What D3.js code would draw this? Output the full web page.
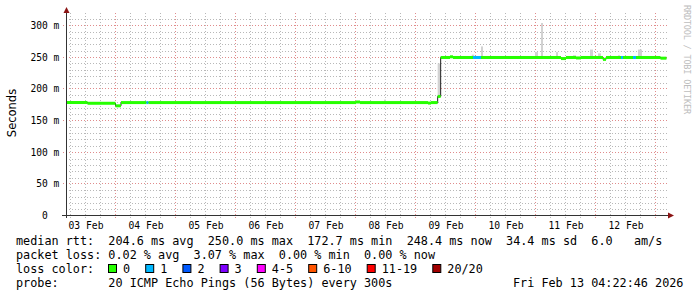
<!DOCTYPE html>
<html><head><meta charset="utf-8">
<script src="https://cdn.jsdelivr.net/npm/d3@7"></script>
<style>
html,body{margin:0;padding:0;background:#fff;}
svg{display:block;}
text{font-family:"DejaVu Sans Mono",monospace;white-space:pre;}
</style></head><body>
<svg id="c" width="697" height="297"></svg>
<script>
// ---- data ----
const startTime = "2026-02-03 04:22:46";
const endTime   = "2026-02-13 04:22:46";

// median rtt (ms) as steps: each value holds from its time until the next time
const medTime  = ["2026-02-03 04:22:46","2026-02-03 12:48","2026-02-04 00:00","2026-02-04 02:12","2026-02-04 12:24","2026-02-04 13:12",
                  "2026-02-08 00:12","2026-02-08 01:48","2026-02-09 05:00","2026-02-09 06:12","2026-02-09 08:52","2026-02-09 10:04",
                  "2026-02-09 13:48","2026-02-09 15:00","2026-02-09 23:00","2026-02-10 02:12","2026-02-11 10:12","2026-02-11 12:12",
                  "2026-02-11 16:12","2026-02-11 18:12","2026-02-12 03:00","2026-02-12 04:12","2026-02-12 10:12","2026-02-12 11:00",
                  "2026-02-12 15:00","2026-02-12 16:12","2026-02-13 02:00"];
const medValue = [178.4,177.2,173.2,178.3,178.3,178.3,
                  179.2,178.3,177.5,178.3,188.0,249.5,
                  250.6,249.5,249.5,249.5,247.8,249.5,
                  248.8,249.5,246.5,249.5,249.5,249.5,
                  249.5,249.5,248.4];
const medLoss  = [0,0,0,0,1,0,
                  0,0,0,0,0,0,
                  0,0,1,0,0,0,
                  0,0,0,0,1,0,
                  1,0,0];

// smoke (spread of the 20 pings, ms)
const smokeStart = ["2026-02-04 11:24","2026-02-08 11:24","2026-02-09 08:52","2026-02-09 22:30","2026-02-10 02:12","2026-02-10 23:48",
                    "2026-02-11 02:12","2026-02-11 08:12","2026-02-11 15:00","2026-02-11 21:48","2026-02-12 01:00","2026-02-12 09:00","2026-02-12 17:00"];
const smokeEnd   = ["2026-02-04 12:12","2026-02-08 12:12","2026-02-09 10:04","2026-02-09 23:30","2026-02-10 03:00","2026-02-11 01:00",
                    "2026-02-11 03:00","2026-02-11 09:00","2026-02-11 16:12","2026-02-11 23:00","2026-02-12 02:12","2026-02-12 09:48","2026-02-12 18:36"];
const smokeLow   = [177,180,189,248,248,248,248,248,248,248,248,248,248];
const smokeHigh  = [181,183,240,254,267,258,304,258,253,262,256,253,262];

const yTicks      = [0,50,100,150,200,250,300];
const yTickLabels = ["  0  "," 50 m","100 m","150 m","200 m","250 m","300 m"];
const xTickDays   = ["2026-02-03","2026-02-04","2026-02-05","2026-02-06","2026-02-07","2026-02-08","2026-02-09","2026-02-10","2026-02-11","2026-02-12"];
const xTickLabels = ["03 Feb","04 Feb","05 Feb","06 Feb","07 Feb","08 Feb","09 Feb","10 Feb","11 Feb","12 Feb"];

const lossLabels = ["0","1","2","3","4-5","6-10","11-19","20/20"];
const lossColors = ["#26ff00","#00b8ff","#0059ff","#7e00ff","#ff00ff","#ff5500","#ff0000","#a10000"];

const legendRtt   = "median rtt:  204.6 ms avg  250.0 ms max  172.7 ms min  248.4 ms now  34.4 ms sd  6.0   am/s";
const legendLoss  = "packet loss: 0.02 % avg  3.07 % max  0.00 % min  0.00 % now";
const legendColor = "loss color:";
const legendProbe = "probe:       20 ICMP Echo Pings (56 Bytes) every 300s";
const legendDate  = "Fri Feb 13 04:22:46 2026";
const yTitle = "Seconds";
const watermark = "RRDTOOL / TOBI OETIKER";

// ---- drawing ----
const P = s => d3.utcParse(s.length > 16 ? "%Y-%m-%d %H:%M:%S" : (s.length > 10 ? "%Y-%m-%d %H:%M" : "%Y-%m-%d"))(s);
const t0 = P(startTime), t1 = P(endTime);
const svg = d3.select("#c");
const L = 66.45, R = 666.45, B = 215.5;
const x = d3.scaleUtc().domain([t0, t1]).range([L, R]);
const y = d3.scaleLinear().domain([0, 300]).range([B, 25.5]);

// grid
const g = svg.append("g");
const minorY = d3.range(10, 320, 10).filter(v => v % 50 !== 0);
g.selectAll(".hy").data(minorY).join("line")
  .attr("x1", 66).attr("x2", 668).attr("y1", d => Math.round(y(d)) + 0.5).attr("y2", d => Math.round(y(d)) + 0.5)
  .attr("stroke", "#b8b8b8").attr("stroke-dasharray", "1,2");
const hours6 = d3.utcHour.every(6).range(t0, t1).filter(d => d.getUTCHours() !== 0);
g.selectAll(".vx").data(hours6).join("line")
  .attr("x1", d => Math.round(x(d) - 0.5) + 0.5).attr("x2", d => Math.round(x(d) - 0.5) + 0.5).attr("y1", 13).attr("y2", 218)
  .attr("stroke", "#b8b8b8").attr("stroke-dasharray", "1,2");
g.selectAll(".my").data(yTicks.filter(v => v > 0)).join("line")
  .attr("x1", 63).attr("x2", 668).attr("y1", d => Math.round(y(d) - 0.5) + 0.5).attr("y2", d => Math.round(y(d) - 0.5) + 0.5)
  .attr("stroke", "#e08c8c").attr("stroke-dasharray", "1,2");
const days = d3.utcDay.range(t0, t1);
g.selectAll(".mx").data(days).join("line")
  .attr("x1", d => Math.round(x(d) - 0.5) + 0.5).attr("x2", d => Math.round(x(d) - 0.5) + 0.5).attr("y1", 13).attr("y2", 218)
  .attr("stroke", "#e08c8c").attr("stroke-dasharray", "1,2");

// smoke
svg.append("g").selectAll("rect").data(smokeStart).join("rect")
  .attr("x", (d, i) => x(P(d))).attr("width", (d, i) => x(P(smokeEnd[i])) - x(P(d)))
  .attr("y", (d, i) => y(smokeHigh[i])).attr("height", (d, i) => y(smokeLow[i]) - y(smokeHigh[i]))
  .attr("fill", "#d2d2d2");

// median: thin dark step line + loss coloured band
const med = medTime.map((t, i) => ({ t: P(t), v: medValue[i], l: medLoss[i] }));
const lineData = med.concat([{ t: t1, v: medValue[medValue.length - 1] }]);
svg.append("path").datum(lineData)
  .attr("d", d3.line().x(d => x(d.t)).y(d => y(d.v)).curve(d3.curveStepAfter))
  .attr("fill", "none").attr("stroke", "#202020").attr("stroke-width", 1);
svg.append("g").selectAll("rect").data(med).join("rect")
  .attr("x", d => x(d.t)).attr("width", (d, i) => x(i + 1 < med.length ? med[i + 1].t : t1) - x(d.t))
  .attr("y", d => y(d.v) - 1.5).attr("height", 3)
  .attr("fill", d => lossColors[d.l]);

// axes lines & arrows
const AX = "#333", AR = "#8b1414";
svg.append("line").attr("x1", 62).attr("x2", 669).attr("y1", B).attr("y2", B).attr("stroke", AX);
svg.append("line").attr("x1", 66.5).attr("x2", 66.5).attr("y1", 218).attr("y2", 12).attr("stroke", AX);
svg.append("path").attr("d", "M674,215.5L668,212.5L668,218.5Z").attr("fill", AR);
svg.append("path").attr("d", "M66.5,7L63.5,13L69.5,13Z").attr("fill", AR);

// y axis labels
const ya = svg.append("g").attr("transform", "translate(66,0)")
  .call(d3.axisLeft(y).tickValues(yTicks).tickFormat((d, i) => yTickLabels[i]).tickSize(0).tickPadding(4));
ya.select(".domain").remove();
ya.selectAll("text").attr("text-anchor", "start").attr("x", -35.5)
  .style("font-family", "DejaVu Sans Mono").style("font-size", "9.6px").attr("fill", "#000");

// x axis labels at midday
const noons = xTickDays.map(d => d3.utcHour.offset(P(d), 12));
const xa = svg.append("g").attr("transform", `translate(0,${B})`)
  .call(d3.axisBottom(x).tickValues(noons).tickFormat((d, i) => xTickLabels[i]).tickSize(0).tickPadding(6.5));
xa.select(".domain").remove();
xa.selectAll("text").style("font-family", "DejaVu Sans Mono").style("font-size", "9.7px").attr("fill", "#000");

// y title
svg.append("text").attr("transform", "translate(16,113) rotate(-90)").attr("text-anchor", "middle")
  .style("font-family", "DejaVu Sans").style("font-size", "11.5px").attr("fill", "#000").text(yTitle);

// watermark
svg.append("text").attr("transform", "translate(684,5) rotate(90)")
  .attr("textLength", 109).attr("lengthAdjust", "spacing")
  .style("font-family", "DejaVu Sans Mono").style("font-size", "8.5px").attr("fill", "#bdbdbd").text(watermark);

// legend
const lf = "11.8px";
const addT = (s, xx, yy) => svg.append("text").attr("x", xx).attr("y", yy).style("font-size", lf).attr("fill", "#000").text(s);
addT(legendRtt, 16, 245);
addT(legendLoss, 16, 259);
addT(legendColor, 16, 273);
addT(legendProbe, 16, 287);
addT(legendDate, 513, 287);
let bx = 108;
lossLabels.forEach((lab, i) => {
  svg.append("rect").attr("x", bx + 0.5).attr("y", 264.5).attr("width", 8).attr("height", 8)
    .attr("fill", lossColors[i]).attr("stroke", "#000").attr("stroke-width", 1);
  addT(lab, bx + 15, 273);
  bx += 30.1 + lab.length * 7.1;
});
</script>
</body></html>
